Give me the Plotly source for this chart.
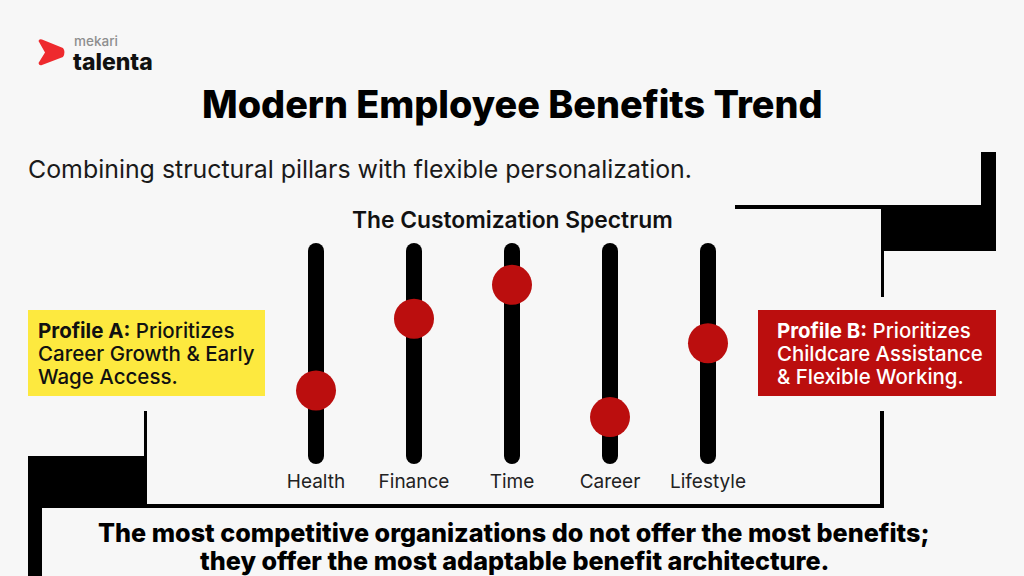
import plotly.graph_objects as go

W, H = 1024, 576
categories = ["Health", "Finance", "Time", "Career", "Lifestyle"]
preference = [32, 67, 83.5, 19, 55]
track_low = [0, 0, 0, 0, 0]
track_high = [100, 100, 100, 100, 100]

title_text = "Modern Employee Benefits Trend"
subtitle_text = "Combining structural pillars with flexible personalization."
spectrum_text = "The Customization Spectrum"
profile_a_lines = ["<b>Profile A:</b> Prioritizes", "Career Growth &amp; Early", "Wage Access."]
profile_b_lines = ["<b>Profile B:</b> Prioritizes", "Childcare Assistance", "&amp; Flexible Working."]
closing_lines = ["The most competitive organizations do not offer the most benefits;",
                 "they offer the most adaptable benefit architecture."]

BG = "#f7f7f7"
RED = "#bb0e0e"
YELLOW = "#fde93f"
FONT = "Inter"


def fx(x):
    return x / W


def fy(y):
    return 1 - y / H


def path(points):
    return "M" + " L".join(f"{fx(x):.5f},{fy(y):.5f}" for x, y in points) + " Z"


def box(x0, y0, x1, y1, color):
    return dict(type="rect", xref="paper", yref="paper", x0=fx(x0), x1=fx(x1), y0=fy(y0), y1=fy(y1),
                fillcolor=color, line_width=0, layer="below")


def label(x, y, text, size, color="#111111", anchor="left", weight=None, font=FONT):
    return dict(xref="paper", yref="paper", x=fx(x), y=fy(y), text=text, showarrow=False,
                xanchor=anchor, yanchor="middle", align=anchor,
                font=dict(family=font, size=size, color=color, weight=weight))


track_x, track_y = [], []
for c, lo, hi in zip(categories, track_low, track_high):
    track_x += [c, c, None]
    track_y += [lo, hi, None]

fig = go.Figure()
fig.add_trace(go.Scatter(x=track_x, y=track_y, mode="lines+markers", cliponaxis=False,
                         line=dict(color="black", width=16),
                         marker=dict(color="black", size=16, line_width=0),
                         showlegend=False, hoverinfo="skip"))
fig.add_trace(go.Scatter(x=categories, y=preference, mode="markers", cliponaxis=False,
                         marker=dict(color=RED, size=40, line_width=0), showlegend=False))

right_bracket = [(735, 205), (981, 205), (981, 152), (996, 152), (996, 251), (884, 251),
                 (884, 297), (881, 297), (881, 209), (735, 209)]
left_bracket = [(144, 411), (147, 411), (147, 504), (880, 504), (880, 411), (884, 411),
                (884, 508), (42, 508), (42, 576), (28, 576), (28, 456), (144, 456)]
chevron = (f"M{fx(38.5):.5f},{fy(41):.5f} Q{fx(39):.5f},{fy(38.5):.5f} {fx(42):.5f},{fy(39.5):.5f} "
           f"L{fx(63):.5f},{fy(48):.5f} Q{fx(66):.5f},{fy(52):.5f} {fx(63):.5f},{fy(57):.5f} "
           f"L{fx(42):.5f},{fy(65):.5f} Q{fx(39):.5f},{fy(66):.5f} {fx(38.5):.5f},{fy(63):.5f} "
           f"L{fx(45):.5f},{fy(52.5):.5f} Z")

shapes = [
    box(28, 310, 265, 396, YELLOW),
    box(758, 310, 996, 396, RED),
    dict(type="path", xref="paper", yref="paper", path=path(right_bracket), fillcolor="black", line_width=0, layer="below"),
    dict(type="path", xref="paper", yref="paper", path=path(left_bracket), fillcolor="black", line_width=0, layer="below"),
    dict(type="path", xref="paper", yref="paper", path=chevron, fillcolor="#ee2a2e", line_width=0, layer="below"),
]

annotations = [
    label(72, 40.5, "mekari", 13.5, "#8e8e8e", weight=500),
    label(71, 62.5, "talenta", 23, "#111111", weight=800),
    label(512, 103.5, title_text, 37.8, "#000000", "center", weight=800),
    label(26, 169, subtitle_text, 24.9, "#1a1a1a"),
    label(512, 219.5, spectrum_text, 22.8, "#111111", "center", weight=600),
]
for i, t in enumerate(profile_a_lines):
    annotations.append(label(36, 330 + i * 23, t, 20.5, "#111111", weight=550))
for i, t in enumerate(profile_b_lines):
    annotations.append(label(775, 330 + i * 23, t, 20.4, "#ffffff", weight=550))
for i, t in enumerate(closing_lines):
    annotations.append(label(514, 533 + i * 28, t, 25.2, "#000000", "center", weight=800))

fig.update_layout(
    width=W, height=H, margin=dict(l=0, r=0, t=0, b=0),
    paper_bgcolor=BG, plot_bgcolor=BG, showlegend=False,
    shapes=shapes, annotations=annotations,
    xaxis=dict(domain=[fx(267), fx(757)], type="category", categoryorder="array", categoryarray=categories,
               range=[-0.5, 4.5], showgrid=False, zeroline=False, showline=False, ticks="",
               tickfont=dict(family=FONT, size=19, color="#222222"), ticklabelstandoff=12, anchor="y"),
    yaxis=dict(domain=[fy(456), fy(251)], range=[0, 100], showgrid=False, zeroline=False, showline=False,
               showticklabels=False, ticks=""),
)
fig.write_html("out.html", config=dict(displayModeBar=False),
               post_script="document.body.style.margin='0';document.body.style.overflow='hidden';")
